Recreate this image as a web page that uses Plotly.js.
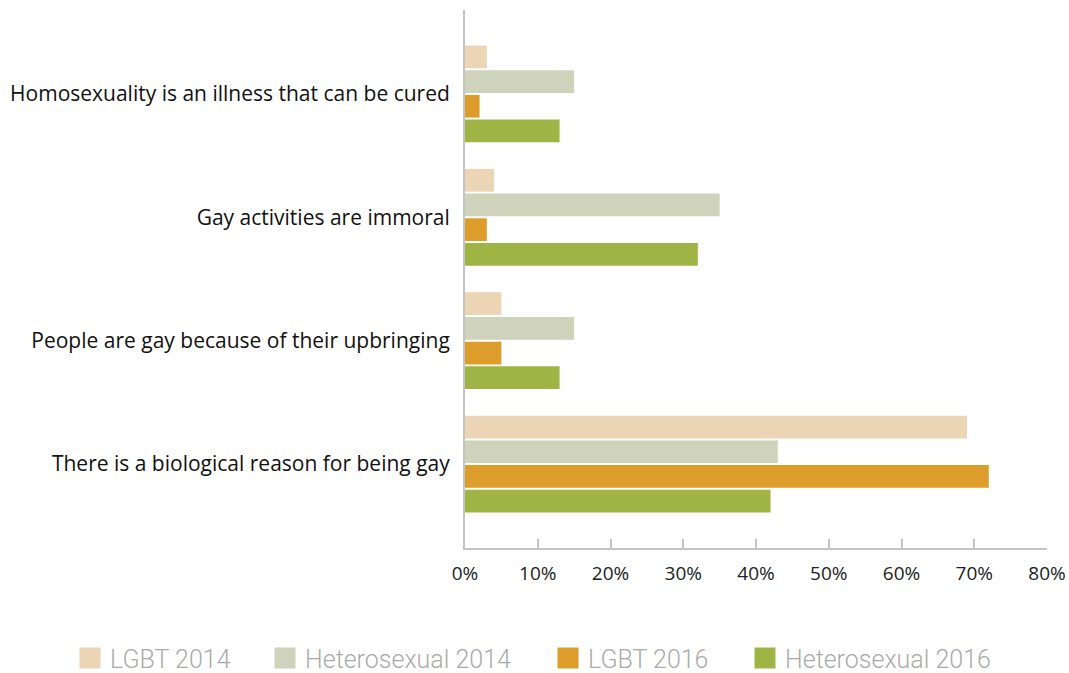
<!DOCTYPE html>
<html>
<head>
<meta charset="utf-8">
<script src="https://cdn.plot.ly/plotly-3.0.1.min.js"></script>
<style>html,body{margin:0;padding:0;background:#fff;}#chart{width:1069px;height:673px;}</style>
</head>
<body>
<div id="chart"></div>
<script>
const categories = [
  "Homosexuality is an illness that can be cured",
  "Gay activities are immoral",
  "People are gay because of their upbringing",
  "There is a biological reason for being gay"
];
const seriesNames = ["LGBT 2014", "Heterosexual 2014", "LGBT 2016", "Heterosexual 2016"];
const lgbt2014 = [3, 4, 5, 69];
const hetero2014 = [15, 35, 15, 43];
const lgbt2016 = [2, 3, 5, 72];
const hetero2016 = [13, 32, 13, 42];
const tickVals = [0, 10, 20, 30, 40, 50, 60, 70, 80];
const tickText = ["0%", "10%", "20%", "30%", "40%", "50%", "60%", "70%", "80%"];

const colors = ["#ebd5b5", "#cfd3bc", "#dc9d2b", "#a0b446"];
const values = [lgbt2014, hetero2014, lgbt2016, hetero2016];
const legendIds = ["legend", "legend2", "legend3", "legend4"];
const legendX = [-0.6787, -0.3436, 0.1426, 0.4811];

const bars = values.map((v, i) => ({
  type: "bar",
  orientation: "h",
  name: seriesNames[i],
  y: categories,
  x: v,
  marker: {color: colors[i]},
  showlegend: false,
  hoverinfo: "x+name"
}));

// legend-only entries with larger square swatches, one legend box each
const legendEntries = seriesNames.map((n, i) => ({
  type: "scatter",
  mode: "markers",
  name: n,
  x: [null],
  y: [null],
  legend: legendIds[i],
  marker: {symbol: "square", size: 22, color: colors[i], line: {color: colors[i], width: 6}},
  showlegend: true,
  hoverinfo: "skip"
}));

const layout = {
  width: 1069,
  height: 673,
  margin: {l: 465, r: 22, t: 10, b: 125, autoexpand: false},
  paper_bgcolor: "#fff",
  plot_bgcolor: "#fff",
  barmode: "group",
  bargap: 0.2,
  bargroupgap: 0.08,
  font: {family: "Open Sans, sans-serif", color: "#222"},
  xaxis: {
    range: [0, 80],
    tickvals: tickVals,
    ticktext: tickText,
    showgrid: false,
    zeroline: false,
    showline: true,
    linecolor: "#c4c4c4",
    linewidth: 2,
    ticks: "inside",
    ticklen: 9,
    tickwidth: 2,
    tickcolor: "#c4c4c4",
    ticklabelstandoff: 7,
    tickfont: {size: 19, color: "#222"},
    fixedrange: true
  },
  yaxis: {
    type: "category",
    categoryorder: "array",
    categoryarray: categories,
    range: [3.68, -0.68],
    showgrid: false,
    zeroline: false,
    showline: true,
    linecolor: "#c4c4c4",
    linewidth: 2,
    ticks: "",
    ticklabelstandoff: 9,
    tickfont: {size: 21, color: "#111"},
    fixedrange: true
  },
  showlegend: true
};

legendIds.forEach((id, i) => {
  layout[id] = {
    orientation: "h",
    x: legendX[i],
    xanchor: "left",
    y: -0.205,
    yanchor: "middle",
    bgcolor: "rgba(0,0,0,0)",
    font: {family: "Roboto, sans-serif", size: 25, weight: 300, color: "#aaa"},
    itemsizing: "trace",
    itemwidth: 30
  };
});

Plotly.newPlot("chart", bars.concat(legendEntries), layout, {displayModeBar: false, staticPlot: true});
</script>
</body>
</html>
